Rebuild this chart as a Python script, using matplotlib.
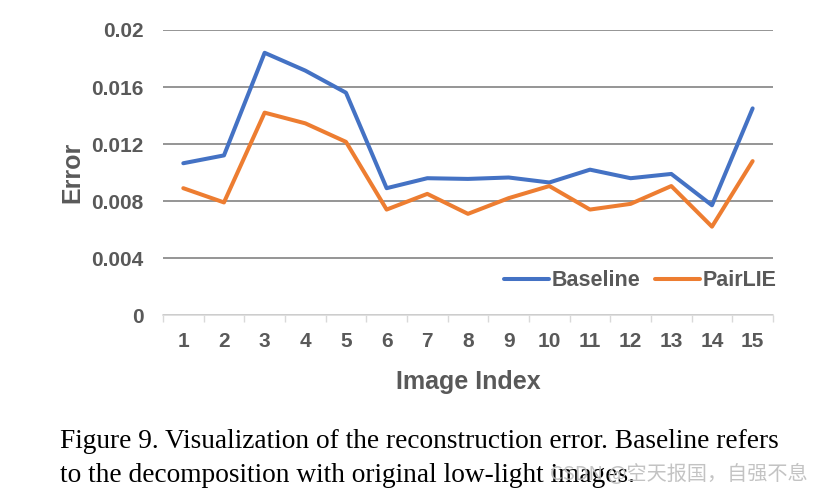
import numpy as np
import matplotlib.pyplot as plt
from matplotlib.ticker import FixedLocator

image_index = list(range(1, 16))
baseline = [0.01065, 0.0112, 0.0184, 0.01715, 0.0156, 0.0089, 0.0096, 0.00955,
            0.00965, 0.0093, 0.0102, 0.0096, 0.0099, 0.0077, 0.0145]
pairlie = [0.0089, 0.0079, 0.0142, 0.01345, 0.01215, 0.0074, 0.0085, 0.0071,
           0.0082, 0.00905, 0.0074, 0.0078, 0.00905, 0.0062, 0.0108]
y_ticks = [0, 0.004, 0.008, 0.012, 0.016, 0.02]
y_labels = ['0', '0.004', '0.008', '0.012', '0.016', '0.02']

grey = '#595959'
fig = plt.figure(figsize=(8.14, 4.95), dpi=100)
ax = fig.add_axes([0.2002, 0.3636, 0.7494, 0.5758])

ax.plot(image_index, baseline, color='#4472C4', lw=2.9, label='Baseline', solid_capstyle='round')
ax.plot(image_index, pairlie, color='#ED7D31', lw=2.9, label='PairLIE', solid_capstyle='round')

ax.set_xlim(0.5, 15.5)
ax.set_ylim(0, 0.02)
ax.set_yticks(y_ticks)
ax.set_yticklabels(y_labels)
ax.set_xticks(image_index)
ax.xaxis.set_minor_locator(FixedLocator(np.arange(0.5, 16, 1)))
ax.tick_params(axis='x', which='major', length=0, pad=12)
ax.tick_params(axis='x', which='minor', length=5, color='#d9d9d9', width=1)
ax.tick_params(axis='y', length=0, pad=14)
for lab in ax.get_xticklabels() + ax.get_yticklabels():
    lab.set_fontfamily('Liberation Sans')
    lab.set_fontweight('bold')
    lab.set_fontsize(15)
    lab.set_color(grey)

ax.grid(axis='y', color='#8c8c8c', lw=1.3)
ax.set_axisbelow(True)
for s in ['top', 'right', 'left']:
    ax.spines[s].set_visible(False)
ax.spines['bottom'].set_color('#d9d9d9')
ax.spines['bottom'].set_linewidth(1.2)
ax.spines['bottom'].set_zorder(3)

ax.set_xlabel('Image Index', fontfamily='Liberation Sans', fontweight='bold',
              fontsize=18, color=grey, labelpad=14)
ax.set_ylabel('Error', fontfamily='Liberation Sans', fontweight='bold',
              fontsize=18, color=grey, labelpad=5)

leg = ax.legend(loc='center right', bbox_to_anchor=(1.038, 0.12), ncol=2, frameon=False,
                handlelength=2.1, handletextpad=0.12, columnspacing=0.7,
                prop={'family': 'Liberation Sans', 'weight': 'bold', 'size': 15.5})
for t in leg.get_texts():
    t.set_color(grey)

cap1 = 'Figure 9. Visualization of the reconstruction error. Baseline refers'
cap2 = 'to the decomposition with original low-light images.'
fig.text(60 / 814, 1 - 448 / 495, cap1, fontfamily='Liberation Serif', fontsize=19.7,
         color='black', va='baseline', ha='left')
fig.text(60 / 814, 1 - 482 / 495, cap2, fontfamily='Liberation Serif', fontsize=19.7,
         color='black', va='baseline', ha='left')
# CSDN watermark, overlaps the caption like in the source image
fig.text(808 / 814, 1 - 474 / 495, 'CSDN @空天报国，自强不息',
         fontfamily=['Noto Sans CJK SC', 'DejaVu Sans'], fontsize=14.5,
         color='#bdbdbd', alpha=0.9, va='center', ha='right')

fig.savefig('out.png', dpi=100)
